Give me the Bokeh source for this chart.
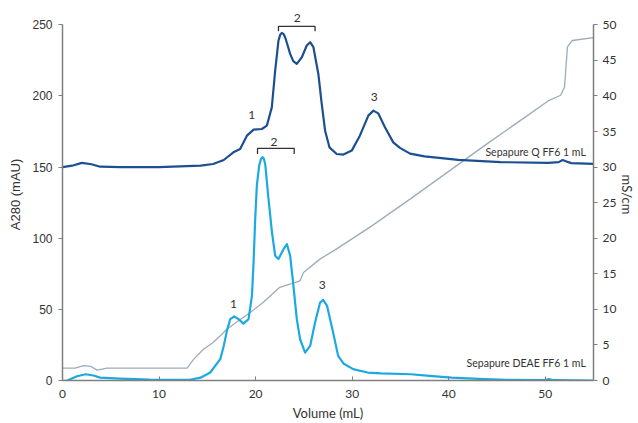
from bokeh.plotting import figure
from bokeh.models import Range1d, LinearAxis, Label, FixedTicker
from bokeh.embed import file_html
from bokeh.resources import INLINE

# Sepapure Q FF6 1 mL (A280, mAU)
q_vol = [0, 1.0, 2.0, 3.0, 3.9, 6, 10, 14.3, 15.6, 16.7, 17.7, 18.4, 19.1, 19.8, 20.65, 21.17, 21.68,
         22.03, 22.37, 22.55, 22.72, 22.9, 23.06, 23.3, 23.58, 23.9, 24.27, 24.79, 25.3, 25.65, 25.99,
         26.5, 26.85, 27.2, 27.65, 28.4, 29.1, 29.96, 30.8, 31.68, 32.2, 32.7, 33.4, 34.26, 34.95, 36.0,
         37.5, 41.0, 45.4, 50.3, 51.4, 51.8, 52.2, 52.7, 55.0]
q_a280 = [150, 151, 153, 152, 150.3, 150, 150, 151, 152.2, 155, 160.4, 162.8, 172.1, 176.4, 176.8, 179.2, 192,
          217.9, 239, 243, 244.4, 243.5, 241.3, 236, 229.6, 224.5, 222.6, 227.2, 235.5, 237.8, 234.3,
          215.5, 194.4, 175.6, 163.9, 159.2, 158.8, 161.6, 172.1, 186.2, 189.7, 187.8, 178, 167.4, 163.5, 159.5,
          157.5, 155.1, 153.5, 153, 153.5, 155, 154, 152.8, 152.3]

# Sepapure DEAE FF6 1 mL (A280, mAU)
d_vol = [0, 0.5, 1.5, 2.4, 3.2, 3.9, 6.0, 9, 13.2, 14.3, 15.3, 16.34, 16.7, 17.03, 17.37, 17.79, 18.23,
         18.75, 19.27, 19.62, 19.79, 19.96, 20.13, 20.37, 20.55, 20.72, 20.85, 21.0, 21.3, 21.7, 22.03,
         22.37, 22.9, 23.24, 23.58, 23.92, 24.27, 24.61, 25.13, 25.65, 26.16, 26.68, 27.0, 27.4, 28.03,
         28.55, 29.1, 30.1, 31.6, 33.0, 36.1, 38.0, 40.3, 43.7, 46.0, 49.9, 50.4, 50.8, 55.0]
d_a280 = [-0.5, 0, 3, 4.4, 3.5, 2, 1.3, 0.6, 0.5, 2, 5.6, 15, 24.3, 34.9, 43.1, 45, 43.1,
          40, 43.1, 59.5, 83, 113.5, 137, 151, 155.5, 157, 156, 152, 130, 104, 87.7,
          85.4, 92.4, 95.9, 87.7, 66.6, 43.1, 29, 19.6, 24.3, 40.7, 54.8, 56.7, 52.5, 33.7,
          17.3, 12, 8, 5.6, 5, 4.4, 3.2, 2, 0.9, 0.5, 0.2, 1, 0.2, 0]

# Conductivity (mS/cm)
c_vol = [0, 1.3, 2.2, 2.9, 3.6, 4.6, 8, 12.9, 13.6, 14.6, 15.6, 16.34, 17.0, 19.44, 20.8, 22.5, 24.6,
         24.96, 26.7, 28.4, 32.0, 36.0, 40.0, 44.0, 48.0, 50.3, 51.6, 52.0, 52.3, 52.8, 55.0]
c_ms = [1.75, 1.75, 2.1, 2.0, 1.45, 1.75, 1.75, 1.75, 3.0, 4.4, 5.35, 6.28, 7.2, 9.56, 11.0, 13.1, 14.0,
        15.2, 17.1, 18.5, 21.7, 25.5, 29.4, 33.3, 37.1, 39.3, 40.1, 41.25, 46.9, 47.8, 48.2]

x_ticks = [0, 10, 20, 30, 40, 50]
y_ticks = [0, 50, 100, 150, 200, 250]
y2_ticks = [0, 5, 10, 15, 20, 25, 30, 35, 40, 45, 50]

DARK = "#1c4f91"
LIGHT = "#1ca9e1"
GREY = "#9badb9"
AX = "#7f7f7f"
TXT = "#333333"

YMAX = 261.5
p = figure(width=638, height=423, output_backend="svg", toolbar_location=None,
           x_range=Range1d(0, 55), y_range=Range1d(0, YMAX),
           min_border_left=62, min_border_right=44, min_border_top=8, min_border_bottom=43)
p.outline_line_color = None
p.grid.visible = False
p.background_fill_color = "white"

p.extra_y_ranges = {"cond": Range1d(0, YMAX / 5.0)}

p.line(c_vol, c_ms, y_range_name="cond", line_color=GREY, line_width=1.3)
p.line(d_vol, d_a280, line_color=LIGHT, line_width=2.2, line_join="round")
p.line(q_vol, q_a280, line_color=DARK, line_width=2.2, line_join="round")

# axes
xa = p.xaxis[0]
xa.ticker = FixedTicker(ticks=x_ticks)
xa.axis_label = "Volume (mL)"
xa.major_tick_in = 4
xa.major_tick_out = 0
xa.minor_tick_line_color = None
xa.major_label_standoff = 9
xa.axis_label_standoff = 4

ya = p.yaxis[0]
ya.ticker = FixedTicker(ticks=y_ticks)
ya.bounds = (0, 250)
ya.axis_label = "A280 (mAU)"
ya.major_tick_in = 0
ya.major_tick_out = 4
ya.minor_tick_line_color = None
ya.major_label_standoff = 6
ya.axis_label_standoff = 6
ya.major_label_text_font = "Liberation Sans"
ya.axis_label_text_font = "Liberation Sans"

ra = LinearAxis(y_range_name="cond", ticker=FixedTicker(ticks=y2_ticks), bounds=(0, 50),
                axis_label="mS/cm")
ra.major_tick_in = 0
ra.major_tick_out = 4
ra.minor_tick_line_color = None
ra.major_label_standoff = 5
ra.axis_label_standoff = 0
p.add_layout(ra, "right")

for ax in (xa, ya, ra):
    ax.axis_line_color = AX
    ax.axis_line_width = 1.5
    ax.major_tick_line_color = AX
    ax.major_label_text_color = TXT
    ax.axis_label_text_color = TXT
    ax.major_label_text_font_size = "12px"
    ax.axis_label_text_font_size = "13px"
    ax.axis_label_text_font_style = "normal"
for ax in (xa, ra):
    ax.major_label_text_font = "Lato"
    ax.axis_label_text_font = "Lato"

def lab(x, y, t, size="12px", align="center", base="middle"):
    p.add_layout(Label(x=x, y=y, text=t, text_font="Lato", text_font_size=size,
                       text_color=TXT, text_align=align, text_baseline=base))

# peak labels
lab(19.6, 186.3, "1")
lab(32.3, 199.1, "3")
lab(24.3, 254.5, "2")
lab(17.7, 53.7, "1")
lab(26.9, 67.3, "3")
lab(21.9, 167.4, "2")
lab(54.2, 160.4, "Sepapure Q FF6 1 mL", size="10.5px", align="right")
lab(54.2, 12.2, "Sepapure DEAE FF6 1 mL", size="10.5px", align="right")

# brackets
br_x1 = [22.37, 20.2]
br_x2 = [26.16, 24.0]
br_top = [249.0, 163.2]
br_bot = [245.5, 159.3]
for a, b, t, bo in zip(br_x1, br_x2, br_top, br_bot):
    p.line([a, a, b, b], [bo, t, t, bo], line_color="#333333", line_width=1.3)

open("out.html", "w").write(file_html(p, INLINE))
